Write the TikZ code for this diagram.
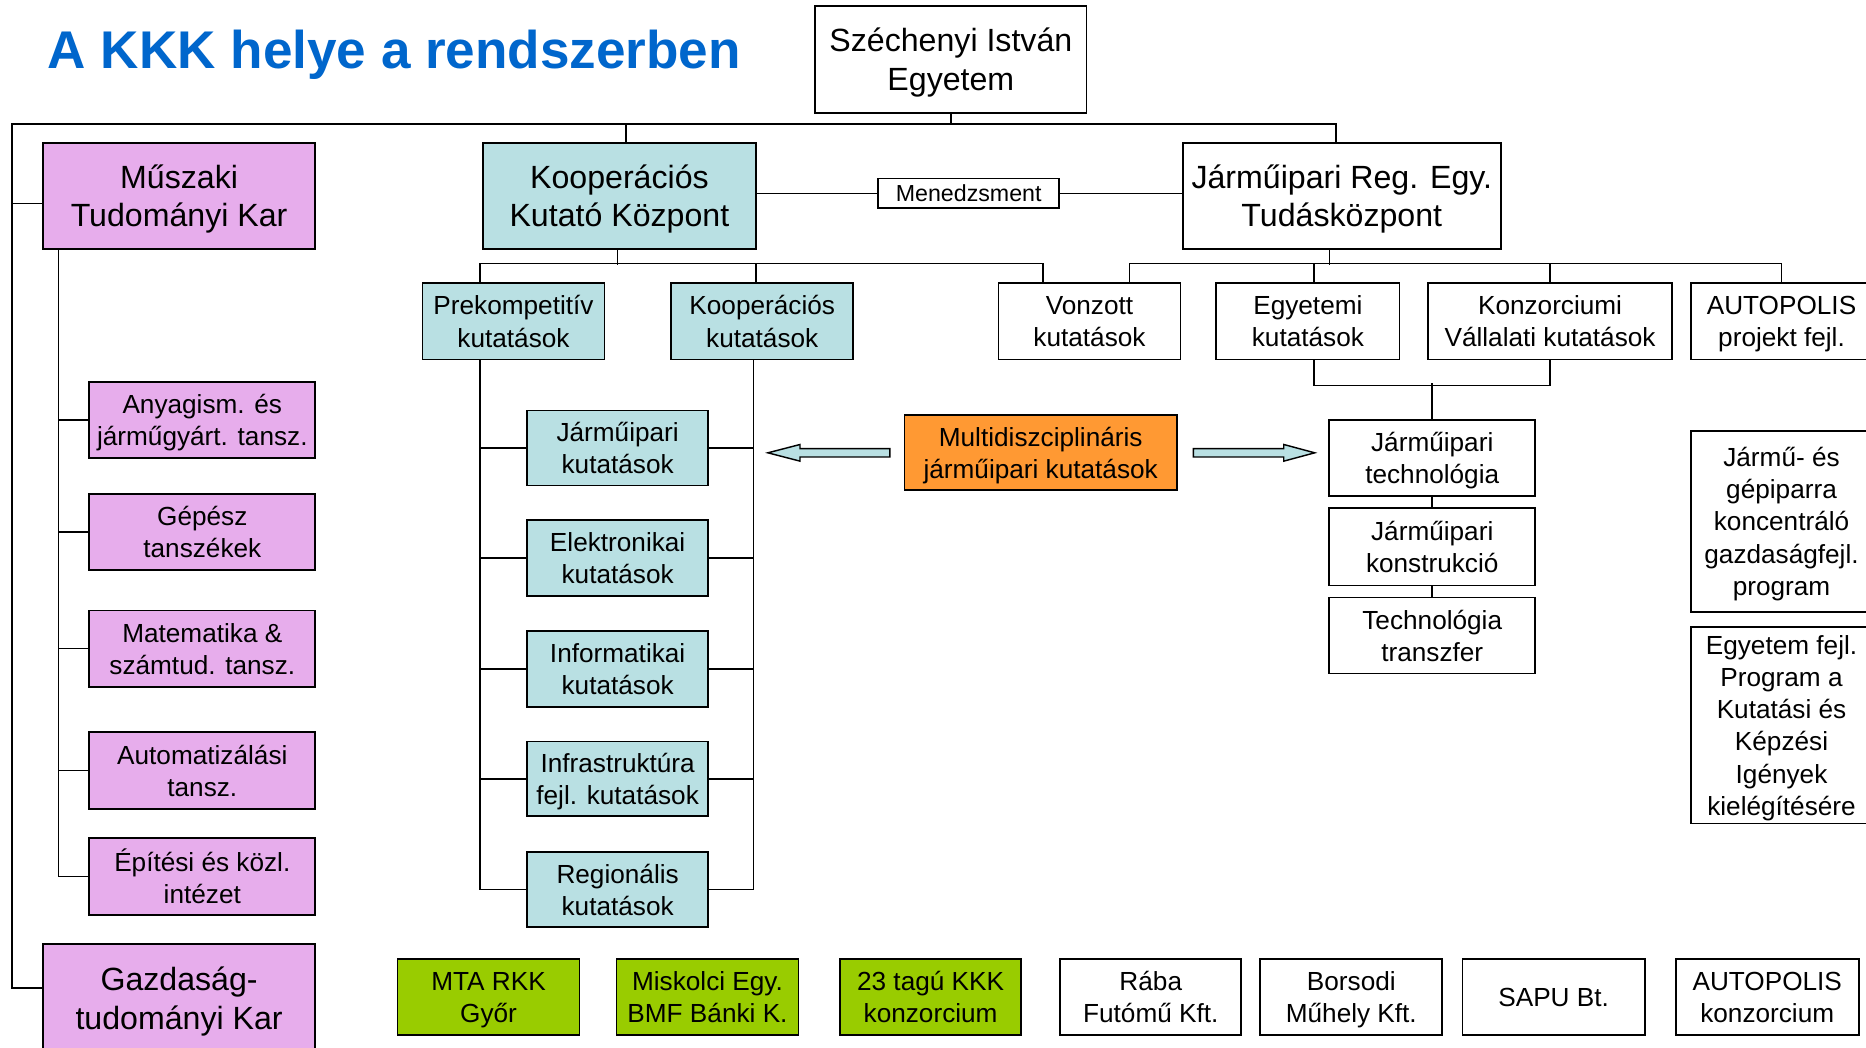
\documentclass[tikz,border=0pt]{standalone}
\usepackage{fontspec}
\setmainfont{Liberation Sans}
\definecolor{pinkk}{RGB}{231,173,236}
\definecolor{cyann}{RGB}{185,224,227}
\definecolor{orng}{RGB}{255,153,51}
\definecolor{grn}{RGB}{153,204,0}
\definecolor{ttl}{RGB}{0,102,204}
\tikzset{
  box/.style={draw=black, line width=1.5pt, inner sep=0pt, align=center, fill=white,
    font=\fontsize{22}{27}\selectfont, text depth=-7pt},
  bigbox/.style={box, font=\fontsize{27}{32.5}\selectfont, text depth=-6pt},
  conn/.style={line width=1.3pt},
  barrow/.style={fill=cyann, draw=black, line width=1.2pt, line join=miter},
}
\begin{document}
\begin{tikzpicture}[x=1pt,y=-1pt]
\useasboundingbox (0,0) rectangle (1568,880);
\fill[white] (0,0) rectangle (1568,880);

\node[anchor=base west, inner sep=0pt, text=ttl, font=\fontsize{44.6}{50}\selectfont\bfseries] (title) at (40,57.5) {A KKK helye a rendszerben};

% top level
\node[bigbox, minimum width=228, minimum height=90] (sze) at (799,50) {Széchenyi István\\Egyetem};
\node[bigbox, fill=pinkk, minimum width=229, minimum height=89] (mtk) at (150.5,164.5) {Műszaki\\Tudományi Kar};
\node[bigbox, fill=cyann, minimum width=229, minimum height=89] (kkk) at (520.5,164.5) {Kooperációs\\Kutató Központ};
\node[bigbox, minimum width=267, minimum height=89] (jret) at (1127.5,164.5) {Járműipari Reg. Egy.\\Tudásközpont};
\node[box, font=\fontsize{19.5}{23}\selectfont, text depth=-1pt, minimum width=152, minimum height=25] (men) at (814,162.5) {Menedzsment};
\node[bigbox, fill=pinkk, minimum width=229, minimum height=92] (gaz) at (150.5,839) {Gazdaság-\\tudományi Kar};

% second row
\node[box, fill=cyann, minimum width=153, minimum height=64] (prek) at (431.5,270) {Prekompetitív\\kutatások};
\node[box, fill=cyann, minimum width=153, minimum height=64] (koop) at (640.5,270) {Kooperációs\\kutatások};
\node[box, minimum width=153, minimum height=64] (vonz) at (915.5,270) {Vonzott\\kutatások};
\node[box, minimum width=154, minimum height=64] (egy) at (1099,270) {Egyetemi\\kutatások};
\node[box, minimum width=205, minimum height=64] (konz) at (1302.5,270) {Konzorciumi\\Vállalati kutatások};
\node[box, minimum width=152, minimum height=64] (autp) at (1497,270) {AUTOPOLIS\\projekt fejl.};

% pink departments
\node[box, fill=pinkk, minimum width=190, minimum height=64] (any) at (170,353) {Anyagism. és\\járműgyárt. tansz.};
\node[box, fill=pinkk, minimum width=190, minimum height=64] (gep) at (170,447) {Gépész\\tanszékek};
\node[box, fill=pinkk, minimum width=190, minimum height=64] (mat) at (170,545) {Matematika \&\\számtud. tansz.};
\node[box, fill=pinkk, minimum width=190, minimum height=65] (aut) at (170,647.5) {Automatizálási\\tansz.};
\node[box, fill=pinkk, minimum width=190, minimum height=65] (epi) at (170,736.5) {Építési és közl.\\intézet};

% cyan research
\node[box, fill=cyann, minimum width=152, minimum height=63] (jk) at (519,376.5) {Járműipari\\kutatások};
\node[box, fill=cyann, minimum width=152, minimum height=64] (ek) at (519,469) {Elektronikai\\kutatások};
\node[box, fill=cyann, minimum width=152, minimum height=64] (ik) at (519,562) {Informatikai\\kutatások};
\node[box, fill=cyann, minimum width=152, minimum height=63] (infk) at (519,654.5) {Infrastruktúra\\fejl. kutatások};
\node[box, fill=cyann, minimum width=152, minimum height=63] (rk) at (519,747.5) {Regionális\\kutatások};

% orange
\node[box, fill=orng, minimum width=229, minimum height=63] (orange) at (874.5,380.5) {Multidiszciplináris\\járműipari kutatások};

% right column
\node[box, minimum width=173, minimum height=64] (jtech) at (1203.5,385) {Járműipari\\technológia};
\node[box, minimum width=173, minimum height=65] (jkon) at (1203.5,459.5) {Járműipari\\konstrukció};
\node[box, minimum width=173, minimum height=64] (ttr) at (1203.5,534) {Technológia\\transzfer};
\node[box, minimum width=152, minimum height=152] (jgp) at (1497,438) {Jármű- és\\gépiparra\\koncentráló\\gazdaságfejl.\\program};
\node[box, minimum width=152, minimum height=165] (efp) at (1497,609.5) {Egyetem fejl.\\Program a\\Kutatási és\\Képzési\\Igények\\kielégítésére};

% bottom row
\node[box, fill=grn, minimum width=153, minimum height=64] (mta) at (410.5,838) {MTA RKK\\Győr};
\node[box, fill=grn, minimum width=153, minimum height=64] (mis) at (594.5,838) {Miskolci Egy.\\BMF Bánki K.};
\node[box, fill=grn, minimum width=152, minimum height=64] (t23) at (782,838) {23 tagú KKK\\konzorcium};
\node[box, minimum width=152, minimum height=64] (rab) at (967,838) {Rába\\Futómű Kft.};
\node[box, minimum width=153, minimum height=64] (bor) at (1135.5,838) {Borsodi\\Műhely Kft.};
\node[box, text depth=0pt, minimum width=153, minimum height=64] (sap) at (1305.5,838) {SAPU Bt.};
\node[box, minimum width=154, minimum height=64] (autk) at (1485,838) {AUTOPOLIS\\konzorcium};

% connectors: top bus
\coordinate (bus) at (10,104);
\draw[conn] (sze.south) -- ++(0,9);
\draw[conn] ([yshift=9pt]gaz.west) -| (bus) -| ([xshift=-5pt]jret.north);
\draw[conn] ([yshift=-6.5pt]mtk.west) -- ++(-26,0);
\draw[conn] ([xshift=5.5pt]kkk.north) -- ++(0,-16);
\draw[conn] (kkk.east |- men.west) -- (men.west);
\draw[conn] (men.east) -- (jret.west |- men.east);

% KKK children
\draw[conn] ([xshift=-1.5pt]kkk.south) -- ++(0,13);
\draw[conn] ([xshift=49pt]prek.north west) -- ++(0,-16) -| ([xshift=38pt]vonz.north west);
\draw[conn] ([xshift=72pt]koop.north west) -- ++(0,-16);

% JRET children
\draw[conn] ([xshift=-10.5pt]jret.south) -- ++(0,13);
\draw[conn] ([xshift=111pt]vonz.north west) -- ++(0,-16) -| (autp.north);
\draw[conn] ([xshift=5pt]egy.north) -- ++(0,-16);
\draw[conn] (konz.north) -- ++(0,-16);
\draw[conn] ([xshift=5pt]egy.south) -- ++(0,21) -| (konz.south);
\draw[conn] (jtech.north) -- ++(0,-30);
\draw[conn] (jtech.south) -- (jkon.north);
\draw[conn] (jkon.south) -- (ttr.north);

% pink tree
\coordinate (ml) at ([xshift=14pt]mtk.south west);
\draw[conn] (ml) |- (epi.west);
\foreach \n in {any,gep,mat,aut} \draw[conn] (\n.west) -- (\n.west -| ml);

% cyan tree
\coordinate (pl) at ([xshift=49pt]prek.south west);
\coordinate (kr) at ([xshift=70pt]koop.south west);
\draw[conn] (pl) |- (rk.west);
\draw[conn] (kr) |- (rk.east);
\foreach \n in {jk,ek,ik,infk} {
  \draw[conn] (\n.west) -- (\n.west -| pl);
  \draw[conn] (\n.east) -- (\n.east -| kr);
}

% block arrows
\draw[barrow] ([xshift=-11.5pt]orange.west) ++(0,-3.5) -- ++(-75.5,0) -- ++(0,-3.5) -- ++(-27,7) -- ++(27,7) -- ++(0,-3.5) -- ++(75.5,0) -- cycle;
\draw[barrow] ([xshift=13pt]orange.east) ++(0,-3.5) -- ++(76,0) -- ++(0,-3.5) -- ++(26,7) -- ++(-26,7) -- ++(0,-3.5) -- ++(-76,0) -- cycle;
\end{tikzpicture}
\end{document}
